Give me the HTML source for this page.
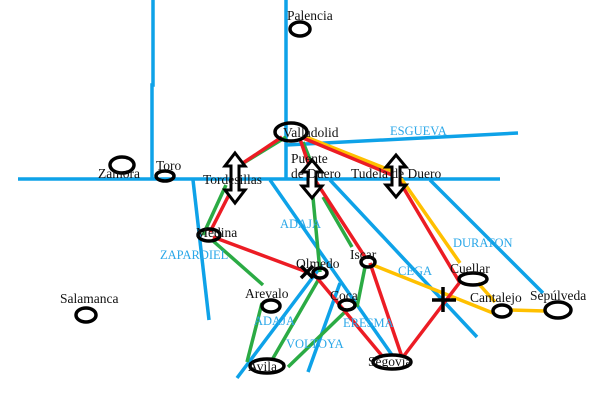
<!DOCTYPE html>
<html><head><style>body{margin:0;background:#fff}svg{display:block}</style></head><body>
<svg width="600" height="400" viewBox="0 0 600 400" xmlns="http://www.w3.org/2000/svg">
<rect width="600" height="400" fill="#fff"/>
<g stroke="#0ea2e8" stroke-width="3.5" fill="none">
<polyline points="153,0 153,85 152,85 152,179"/>
<line x1="286" y1="0" x2="286" y2="179"/>
<line x1="18" y1="179" x2="500" y2="179"/>
<line x1="286" y1="145" x2="518" y2="133"/>
<line x1="193" y1="180" x2="209" y2="320"/>
<line x1="270" y1="180" x2="392" y2="355"/>
<line x1="330" y1="180" x2="477" y2="337"/>
<line x1="430" y1="180" x2="543" y2="293"/>
<line x1="322" y1="265" x2="237" y2="378"/>
<line x1="340" y1="283" x2="308" y2="372"/>
</g>
<g stroke="#2bab44" stroke-width="3.5" fill="none">
<line x1="286" y1="137" x2="237" y2="167"/>
<line x1="226" y1="185" x2="203" y2="235"/>
<line x1="303" y1="142" x2="313" y2="167"/>
<line x1="312" y1="187" x2="320" y2="272"/>
<line x1="323" y1="197" x2="352" y2="247"/>
<line x1="212" y1="240" x2="263" y2="285"/>
<line x1="262" y1="303" x2="247" y2="362"/>
<line x1="320" y1="277" x2="272" y2="360"/>
<line x1="365" y1="267" x2="357" y2="307"/>
<line x1="347" y1="310" x2="288" y2="367"/>
</g>
<g stroke="#ffc000" stroke-width="3.5" fill="none">
<line x1="306" y1="137" x2="397" y2="173"/>
<line x1="400" y1="177" x2="460" y2="263"/>
<line x1="373" y1="265" x2="493" y2="313"/>
<line x1="478" y1="283" x2="495" y2="302"/>
<line x1="510" y1="310" x2="545" y2="311"/>
</g>
<g stroke="#ec1c24" stroke-width="3.5" fill="none">
<line x1="282" y1="137" x2="243" y2="163"/>
<line x1="234" y1="185" x2="210" y2="232"/>
<line x1="300" y1="139" x2="313" y2="177"/>
<line x1="313" y1="177" x2="365" y2="257"/>
<line x1="303" y1="138" x2="397" y2="177"/>
<line x1="397" y1="177" x2="460" y2="283"/>
<line x1="460" y1="282" x2="403" y2="357"/>
<line x1="213" y1="237" x2="307" y2="272"/>
<line x1="313" y1="273" x2="383" y2="357"/>
<line x1="370" y1="263" x2="402" y2="357"/>
</g>
<g stroke="#000" stroke-width="3.5" fill="none">
<ellipse cx="300" cy="29" rx="10" ry="7"/>
<ellipse cx="291" cy="132" rx="16" ry="9"/>
<ellipse cx="122" cy="165" rx="12" ry="8"/>
<ellipse cx="165" cy="176" rx="9" ry="5"/>
<ellipse cx="209" cy="235" rx="11" ry="6"/>
<ellipse cx="320" cy="273" rx="7" ry="5"/>
<ellipse cx="368" cy="262" rx="7" ry="5"/>
<ellipse cx="473" cy="279" rx="14" ry="6"/>
<ellipse cx="502" cy="311" rx="9" ry="6"/>
<ellipse cx="558" cy="310" rx="13" ry="8"/>
<ellipse cx="271" cy="306" rx="9" ry="6"/>
<ellipse cx="347" cy="305" rx="8" ry="5"/>
<ellipse cx="267" cy="366" rx="17" ry="7"/>
<ellipse cx="392" cy="362" rx="19" ry="7"/>
<ellipse cx="86" cy="315" rx="10" ry="7"/>
<line x1="301" y1="266" x2="313" y2="278"/><line x1="313" y1="266" x2="301" y2="278"/>
<line x1="443" y1="287" x2="443" y2="312"/><line x1="432" y1="300" x2="456" y2="300"/>
</g>
<g stroke="#000" stroke-width="3" fill="#fff" stroke-linejoin="miter">
<polygon points="235,153 245,166 239,166 239,190 245,190 235,203 225,190 231,190 231,166 225,166"/>
<polygon points="312,160 322,172 316,172 316,186 322,186 312,198 302,186 308,186 308,172 302,172"/>
<polygon points="396,155 406,167 400,167 400,185 406,185 396,197 386,185 392,185 392,167 386,167"/>
</g>
<g font-family="Liberation Serif, serif" font-size="13.5" fill="#111">
<text x="287" y="20">Palencia</text>
<text x="283" y="137">Valladolid</text>
<text x="98" y="178">Zamora</text>
<text x="156" y="170">Toro</text>
<text x="203" y="184">Tordesillas</text>
<text x="291" y="163">Puente</text>
<text x="291" y="178">de Duero</text>
<text x="351" y="178">Tudela de Duero</text>
<text x="196" y="237">Medina</text>
<text x="296" y="268">Olmedo</text>
<text x="350" y="259">Iscar</text>
<text x="450" y="273">Cuellar</text>
<text x="245" y="298">Arevalo</text>
<text x="330" y="300">Coca</text>
<text x="470" y="302">Cantalejo</text>
<text x="530" y="300">Sepúlveda</text>
<text x="60" y="303">Salamanca</text>
<text x="248" y="371">Avila</text>
<text x="368" y="366">Segovia</text>
</g>
<g font-family="Liberation Serif, serif" font-size="12.5" fill="#2aa7e8">
<text x="390" y="135">ESGUEVA</text>
<text x="280" y="228">ADAJA</text>
<text x="160" y="259">ZAPARDIEL</text>
<text x="453" y="247">DURATON</text>
<text x="398" y="275">CEGA</text>
<text x="254" y="325">ADAJA</text>
<text x="343" y="327">ERESMA</text>
<text x="286" y="348">VOLTOYA</text>
</g>
</svg>
</body></html>
